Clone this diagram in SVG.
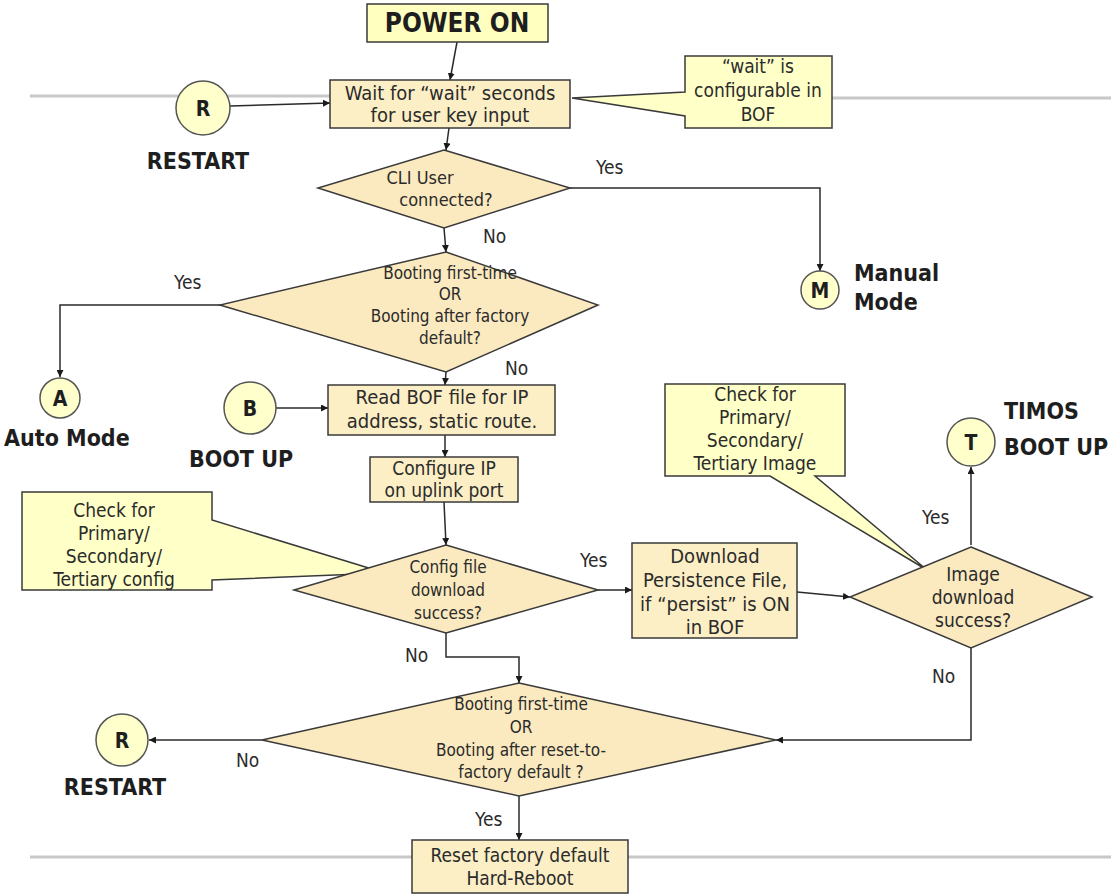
<svg xmlns="http://www.w3.org/2000/svg" width="1111" height="896" viewBox="0 0 1111 896">
  <defs>
    <marker id="arr" viewBox="0 0 10 10" refX="10" refY="5" markerWidth="7" markerHeight="7" orient="auto" markerUnits="userSpaceOnUse">
      <path d="M0,0 L10,5 L0,10 z" fill="#1a1a1a"/>
    </marker>
    <style>
      .box { fill: #fcefc6; stroke: #3a3a3a; stroke-width: 1.5; }
      .note { fill: #ffffc8; stroke: #3a3a3a; stroke-width: 1.5; }
      .dia { fill: #fbeac0; stroke: #3a3a3a; stroke-width: 1.5; }
      .circ { fill: #ffffcc; stroke: #555; stroke-width: 1.5; }
      .start { fill: #ffffc0; stroke: #3a3a3a; stroke-width: 1.5; }
      .sep { stroke: #c8c8c8; stroke-width: 3; fill: none; }
      .conn { stroke: #2a2a2a; stroke-width: 1.5; fill: none; }
      .lbl { font-family: "Liberation Sans Narrow", "DejaVu Sans Condensed", "Liberation Sans", sans-serif; font-size: 20px; fill: #2b2b2b; text-anchor: middle; }
      .d17 { font-size: 17px; }
      .d18 { font-size: 18px; }
      .d19 { font-size: 19px; }
      .yn { font-family: "Liberation Sans Narrow", "DejaVu Sans Condensed", "Liberation Sans", sans-serif; font-size: 19px; fill: #2b2b2b; }
      .big { font-family: "DejaVu Sans Condensed", "Liberation Sans", sans-serif; font-size: 23px; font-weight: bold; fill: #1e1e1e; }
      .cl { font-family: "DejaVu Sans Condensed", "Liberation Sans", sans-serif; font-size: 23px; font-weight: bold; fill: #1e1e1e; text-anchor: middle; }
      .ltr { font-size: 21px; }
      .pwr { font-size: 26px; }
    </style>
  </defs>

  <!-- separator lines -->
  <g id="separators">
    <line class="sep" x1="30" y1="96" x2="330" y2="96"/>
    <line class="sep" x1="832" y1="98" x2="1111" y2="98"/>
    <line class="sep" x1="30" y1="857" x2="1111" y2="857"/>
  </g>

  <g id="connectors">
    <line class="conn" x1="457" y1="42" x2="450" y2="80" marker-end="url(#arr)"/>
    <line class="conn" x1="230" y1="106" x2="330" y2="103" marker-end="url(#arr)"/>
    <line class="conn" x1="449" y1="128" x2="446" y2="150" marker-end="url(#arr)"/>
    <polyline class="conn" points="570,188 820,188 820,271" marker-end="url(#arr)"/>
    <line class="conn" x1="444" y1="228" x2="446" y2="252" marker-end="url(#arr)"/>
    <polyline class="conn" points="220,305 60,305 60,377" marker-end="url(#arr)"/>
    <line class="conn" x1="446" y1="372" x2="445" y2="385" marker-end="url(#arr)"/>
    <line class="conn" x1="276" y1="408" x2="328" y2="408" marker-end="url(#arr)"/>
    <line class="conn" x1="445" y1="435" x2="445" y2="457" marker-end="url(#arr)"/>
    <line class="conn" x1="444" y1="502" x2="446" y2="545" marker-end="url(#arr)"/>
    <line class="conn" x1="598" y1="590" x2="632" y2="590" marker-end="url(#arr)"/>
    <line class="conn" x1="797" y1="592" x2="850" y2="597" marker-end="url(#arr)"/>
    <line class="conn" x1="971" y1="545" x2="971" y2="467" marker-end="url(#arr)"/>
    <polyline class="conn" points="971,648 971,740 776,740" marker-end="url(#arr)"/>
    <polyline class="conn" points="446,633 446,657 519,657 519,683" marker-end="url(#arr)"/>
    <line class="conn" x1="262" y1="740" x2="149" y2="740" marker-end="url(#arr)"/>
    <line class="conn" x1="519" y1="796" x2="519" y2="840" marker-end="url(#arr)"/>
  </g>

  <g id="edge-labels">
    <text class="yn" x="596" y="174">Yes</text>
    <text class="yn" x="483" y="243">No</text>
    <text class="yn" x="174" y="289">Yes</text>
    <text class="yn" x="505" y="375">No</text>
    <text class="yn" x="580" y="567">Yes</text>
    <text class="yn" x="405" y="662">No</text>
    <text class="yn" x="922" y="524">Yes</text>
    <text class="yn" x="932" y="683">No</text>
    <text class="yn" x="236" y="767">No</text>
    <text class="yn" x="475" y="826">Yes</text>
  </g>

  <g id="power-on">
    <rect class="start" x="367" y="4" width="181" height="38"/>
    <text class="cl pwr" x="457" y="32">POWER ON</text>
  </g>

  <g id="restart-top">
    <circle class="circ" cx="203" cy="108" r="27"/>
    <text class="cl ltr" x="203" y="116">R</text>
    <text class="cl" x="198" y="169">RESTART</text>
  </g>

  <g id="wait-box">
    <rect class="box" x="330" y="80" width="240" height="48"/>
    <text class="lbl" x="450" y="100">Wait for “wait” seconds</text>
    <text class="lbl" x="450" y="122">for user key input</text>
  </g>

  <g id="wait-note">
    <path class="note" d="M685,56 H832 V128 H685 V116 L572,98 L685,92 Z"/>
    <text class="lbl d19" x="758" y="73">“wait” is</text>
    <text class="lbl d19" x="758" y="97">configurable in</text>
    <text class="lbl d19" x="758" y="121">BOF</text>
  </g>

  <g id="cli-user">
    <polygon class="dia" points="444,150 570,188 444,228 318,188"/>
    <text class="lbl d18" x="420" y="184">CLI User</text>
    <text class="lbl d18" x="446" y="206">connected?</text>
  </g>

  <g id="manual-mode">
    <circle class="circ" cx="820" cy="290" r="19"/>
    <text class="cl ltr" x="820" y="298">M</text>
    <text class="big" x="854" y="281">Manual</text>
    <text class="big" x="854" y="310">Mode</text>
  </g>

  <g id="first-boot">
    <polygon class="dia" points="446,252 598,305 446,372 220,305"/>
    <text class="lbl d17" x="450" y="279">Booting first-time</text>
    <text class="lbl d17" x="450" y="300">OR</text>
    <text class="lbl d17" x="450" y="322">Booting after factory</text>
    <text class="lbl d17" x="450" y="344">default?</text>
  </g>

  <g id="auto-mode">
    <circle class="circ" cx="60" cy="398" r="20"/>
    <text class="cl ltr" x="60" y="406">A</text>
    <text class="big" x="4" y="446">Auto Mode</text>
  </g>

  <g id="boot-up">
    <circle class="circ" cx="250" cy="408" r="26"/>
    <text class="cl ltr" x="250" y="416">B</text>
    <text class="cl" x="241" y="467">BOOT UP</text>
  </g>

  <g id="read-bof">
    <rect class="box" x="328" y="385" width="227" height="50"/>
    <text class="lbl" x="442" y="404">Read BOF file for IP</text>
    <text class="lbl" x="442" y="428">address, static route.</text>
  </g>

  <g id="configure-ip">
    <rect class="box" x="370" y="457" width="148" height="45"/>
    <text class="lbl d19" x="444" y="475">Configure IP</text>
    <text class="lbl d19" x="444" y="497">on uplink port</text>
  </g>

  <g id="config-note">
    <path class="note" d="M22,492 H212 V520 L385,573 L212,580 V590 H22 Z"/>
    <text class="lbl d19" x="114" y="517">Check for</text>
    <text class="lbl d19" x="114" y="540">Primary/</text>
    <text class="lbl d19" x="114" y="563">Secondary/</text>
    <text class="lbl d19" x="114" y="586">Tertiary config</text>
  </g>

  <g id="config-download">
    <polygon class="dia" points="446,545 598,590 446,633 294,590"/>
    <text class="lbl d17" x="448" y="573">Config file</text>
    <text class="lbl d17" x="448" y="596">download</text>
    <text class="lbl d17" x="448" y="619">success?</text>
  </g>

  <g id="persistence">
    <rect class="box" x="632" y="543" width="165" height="95"/>
    <text class="lbl" x="715" y="563">Download</text>
    <text class="lbl" x="715" y="587">Persistence File,</text>
    <text class="lbl" x="715" y="611">if “persist” is ON</text>
    <text class="lbl" x="715" y="634">in BOF</text>
  </g>

  <g id="image-note">
    <path class="note" d="M665,384 H845 V476 H815 L927,570 L770,476 H665 Z"/>
    <text class="lbl d19" x="755" y="401">Check for</text>
    <text class="lbl d19" x="755" y="424">Primary/</text>
    <text class="lbl d19" x="755" y="447">Secondary/</text>
    <text class="lbl d19" x="755" y="470">Tertiary Image</text>
  </g>

  <g id="image-download">
    <polygon class="dia" points="971,547 1092,597 971,648 850,597"/>
    <text class="lbl d19" x="973" y="581">Image</text>
    <text class="lbl d19" x="973" y="604">download</text>
    <text class="lbl d19" x="973" y="627">success?</text>
  </g>

  <g id="timos">
    <circle class="circ" cx="971" cy="442" r="24"/>
    <text class="cl ltr" x="971" y="450">T</text>
    <text class="big" x="1004" y="419">TIMOS</text>
    <text class="big" x="1004" y="455">BOOT UP</text>
  </g>

  <g id="reset-check">
    <polygon class="dia" points="519,683 776,740 519,796 262,740"/>
    <text class="lbl d17" x="521" y="710">Booting first-time</text>
    <text class="lbl d17" x="521" y="733">OR</text>
    <text class="lbl d17" x="521" y="756">Booting after reset-to-</text>
    <text class="lbl d17" x="521" y="778">factory default ?</text>
  </g>

  <g id="restart-bottom">
    <circle class="circ" cx="122" cy="740" r="26"/>
    <text class="cl ltr" x="122" y="748">R</text>
    <text class="cl" x="115" y="795">RESTART</text>
  </g>

  <g id="hard-reboot">
    <rect class="box" x="412" y="840" width="216" height="53"/>
    <text class="lbl d19" x="520" y="862">Reset factory default</text>
    <text class="lbl d19" x="520" y="885">Hard-Reboot</text>
  </g>
</svg>
